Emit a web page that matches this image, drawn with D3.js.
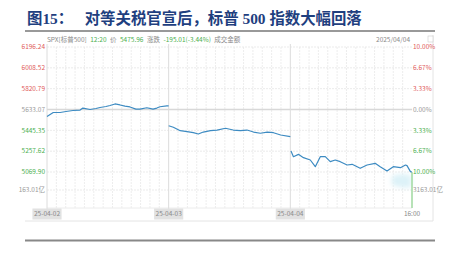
<!DOCTYPE html>
<html lang="zh">
<head>
<meta charset="UTF-8" />
<title>图15：对等关税官宣后，标普 500 指数大幅回落</title>
<script src="https://cdn.jsdelivr.net/npm/d3@7"></script>
<style>
    html, body { margin: 0; background: #fff; }
    svg { display: block; }
</style>
</head>
<body>
<div id="container"></div>
<script>
// data
const dayLabels = ["25-04-02", "25-04-03", "25-04-04"];
const endLabel = "16:00";
const basePrice = 5633.07;
const priceTicks = [6196.24, 6008.52, 5820.79, 5633.07, 5445.35, 5257.62, 5069.90];
const pctTicks = ["10.00%", "6.67%", "3.33%", "0.00%", "3.33%", "6.67%", "10.00%"];
const volTickLeft = "163.01亿";
const volTickRight = "3163.01亿";
const volMax = 6326.02;

// [minute since open, price]
const day1 = [[0, 5570], [20, 5606], [42, 5606], [61, 5615], [83, 5624], [106, 5628], [115, 5646],
    [138, 5633], [157, 5642], [170, 5651], [189, 5660], [202, 5669], [218, 5683], [234, 5674],
    [250, 5663], [266, 5656], [285, 5637], [298, 5637], [320, 5649], [340, 5637], [352, 5646],
    [362, 5658], [384, 5665], [390, 5665]];
const day2 = [[0, 5487], [15, 5473], [37, 5442], [59, 5433], [79, 5424], [95, 5412], [111, 5430],
    [134, 5442], [155, 5448], [182, 5464], [207, 5448], [230, 5442], [251, 5448], [272, 5430],
    [294, 5419], [316, 5430], [336, 5424], [359, 5403], [390, 5388]];
const day3 = [[2, 5259], [10, 5208], [26, 5229], [42, 5199], [64, 5178], [80, 5118], [96, 5208],
    [112, 5208], [128, 5163], [144, 5178], [160, 5163], [182, 5133], [198, 5139], [224, 5103],
    [246, 5133], [272, 5148], [288, 5118], [310, 5079], [330, 5118], [353, 5109], [369, 5133],
    [374, 5127], [385, 5073], [390, 5070]];
// closing volume (亿) and the faint volume band near the close
const closeVolume = 6300;
const volBand = [[325, 5600, 4000], [345, 5900, 3700], [365, 6000, 3500], [388, 5800, 3600]];

const header = [
    { t: "SPX[标普500]", c: "#8a8a8a" },
    { t: "12:20", c: "#4caf50" },
    { t: "价", c: "#8a8a8a" },
    { t: "5475.96", c: "#4caf50" },
    { t: "涨跌", c: "#8a8a8a" },
    { t: "-195.01(-3.44%)", c: "#4caf50" },
    { t: "成交金额", c: "#8a8a8a" }
];

const W = 449, H = 275;
const DAY = 390;
const red = "#e05a5a", green = "#4caf50", grey = "#9a9a9a";
const smallFont = "'Liberation Sans Narrow', 'Noto Sans CJK SC', sans-serif";

const svg = d3.select("#container").append("svg")
    .attr("width", W).attr("height", H)
    .style("font-family", smallFont);

const x = d3.scaleLinear().domain([0, DAY * 3]).range([47, 412]);
const y = d3.scaleLinear().domain([5069.90, 6196.24]).range([172, 47]);
const yVol = d3.scaleLinear().domain([0, volMax]).range([208, 172]);

// title
svg.append("text")
    .attr("x", 27).attr("y", 23.5)
    .attr("fill", "#1f3f7f")
    .attr("font-size", 15.4).attr("font-weight", "bold")
    .style("font-family", "'Liberation Serif', 'Noto Sans CJK SC', serif")
    .attr("xml:space", "preserve")
    .text("图15：   对等关税官宣后，标普 500 指数大幅回落");

svg.append("line")
    .attr("x1", 25).attr("x2", 435).attr("y1", 31).attr("y2", 31)
    .attr("stroke", "#999").attr("stroke-width", 2);

// outer frame
svg.append("path")
    .attr("d", "M433,35V221H25")
    .attr("fill", "none").attr("stroke", "#e4e4e4");

svg.append("rect")
    .attr("x", 428).attr("y", 36).attr("width", 5).attr("height", 6)
    .attr("fill", "#fff").attr("stroke", "#ccc").attr("stroke-width", 0.6);

// header line
let hx = 47;
header.forEach(h => {
    const t = svg.append("text")
        .attr("x", hx).attr("y", 42)
        .attr("font-size", 6.5).attr("fill", h.c)
        .text(h.t);
    hx += t.node().getComputedTextLength() + 3.5;
});
svg.append("text")
    .attr("x", 410).attr("y", 42).attr("text-anchor", "end")
    .attr("font-size", 6.5).attr("fill", "#8a8a8a")
    .text("2025/04/04");

// grid
const grid = svg.append("g");
const halfHours = d3.range(30, DAY * 3, 30).filter(m => m % DAY !== 0);
grid.selectAll(".vg").data(halfHours).join("line")
    .attr("x1", d => x(d)).attr("x2", d => x(d))
    .attr("y1", 47).attr("y2", 208)
    .attr("stroke", "#e8e8e8").attr("stroke-width", 0.8)
    .attr("stroke-dasharray", "2,1");

grid.selectAll(".hg").data(priceTicks).join("line")
    .attr("x1", x(0)).attr("x2", x(DAY * 3))
    .attr("y1", d => y(d)).attr("y2", d => y(d))
    .attr("stroke", d => d === basePrice ? "#d8d8d8" : "#e6e6e6")
    .attr("stroke-width", d => d === basePrice ? 1.5 : 0.8)
    .attr("stroke-dasharray", d => d === basePrice ? null : "2,1");

grid.append("line")
    .attr("x1", x(0)).attr("x2", x(DAY * 3))
    .attr("y1", yVol(volMax / 2)).attr("y2", yVol(volMax / 2))
    .attr("stroke", "#e6e6e6").attr("stroke-width", 0.8)
    .attr("stroke-dasharray", "2,1");

grid.append("line")
    .attr("x1", x(0)).attr("x2", x(DAY * 3))
    .attr("y1", yVol(0)).attr("y2", yVol(0))
    .attr("stroke", "#ececec");

// day separators
grid.selectAll(".dv").data([0, DAY, DAY * 2]).join("line")
    .attr("x1", d => x(d)).attr("x2", d => x(d))
    .attr("y1", 44).attr("y2", 209)
    .attr("stroke", "#dcdcdc").attr("stroke-width", 1);

// volume
const defs = svg.append("defs");
defs.append("filter").attr("id", "blur")
    .attr("x", "-50%").attr("y", "-50%").attr("width", "200%").attr("height", "200%")
    .append("feGaussianBlur").attr("stdDeviation", 2.5);

svg.append("path")
    .datum(volBand)
    .attr("d", d3.area()
        .x(d => x(DAY * 2 + d[0]))
        .y0(d => yVol(d[2]))
        .y1(d => yVol(d[1]))
        .curve(d3.curveBasis))
    .attr("fill", "#ddf2f8")
    .attr("filter", "url(#blur)");

svg.append("rect")
    .attr("x", x(DAY * 3) - 0.8).attr("width", 1.6)
    .attr("y", yVol(closeVolume)).attr("height", yVol(0) - yVol(closeVolume))
    .attr("fill", "#a6dba6");

// price line
const line = d3.line().x(d => x(d[0])).y(d => y(d[1]));
[day1, day2, day3].forEach((day, i) => {
    svg.append("path")
        .datum(day.map(p => [p[0] + i * DAY, p[1]]))
        .attr("d", line)
        .attr("fill", "none")
        .attr("stroke", "#3d8bc2")
        .attr("stroke-width", 1.2)
        .attr("stroke-linejoin", "round");
});

// left axis labels
const tickColor = d => d > basePrice ? red : d < basePrice ? green : grey;
svg.selectAll(".yl").data(priceTicks).join("text")
    .attr("x", 45).attr("y", d => y(d) + 2.3)
    .attr("text-anchor", "end")
    .attr("font-size", 6.5)
    .attr("fill", tickColor)
    .text(d => d.toFixed(2));

svg.append("text")
    .attr("x", 45).attr("y", yVol(volMax / 2) + 2.3)
    .attr("text-anchor", "end").attr("font-size", 6.5).attr("fill", grey)
    .text(volTickLeft);

// right axis labels
svg.selectAll(".yr").data(priceTicks).join("text")
    .attr("x", 413).attr("y", d => y(d) + 2.3)
    .attr("font-size", 6.5)
    .attr("fill", tickColor)
    .text((d, i) => pctTicks[i]);

svg.append("text")
    .attr("x", 413).attr("y", yVol(volMax / 2) + 2.3)
    .attr("font-size", 6.5).attr("fill", grey)
    .text(volTickRight);

// x labels
dayLabels.forEach((lab, i) => {
    const g = svg.append("g").attr("transform", `translate(${x(i * DAY)},214)`);
    const t = g.append("text")
        .attr("y", 2.3).attr("text-anchor", "middle")
        .attr("font-size", 6.5).attr("fill", "#8a8a8a")
        .text(lab);
    const w = t.node().getComputedTextLength();
    g.insert("rect", "text")
        .attr("x", -w / 2 - 1.5).attr("y", -5.5)
        .attr("width", w + 3).attr("height", 11)
        .attr("fill", "#e2e2e2");
});
svg.append("text")
    .attr("x", x(DAY * 3)).attr("y", 216.3)
    .attr("text-anchor", "middle").attr("font-size", 6.5).attr("fill", "#8a8a8a")
    .text(endLabel);

// bottom rule
svg.append("line")
    .attr("x1", 25).attr("x2", 435).attr("y1", 240.5).attr("y2", 240.5)
    .attr("stroke", "#888").attr("stroke-width", 2);
</script>
</body>
</html>
